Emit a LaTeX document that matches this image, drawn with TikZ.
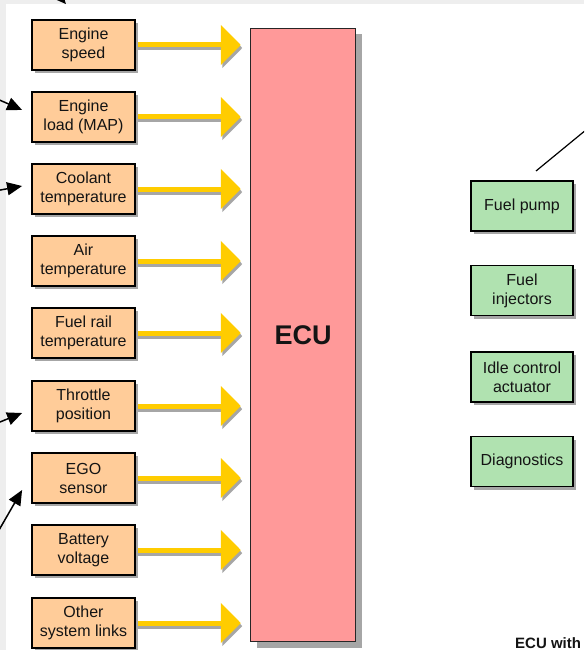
\documentclass[tikz,border=0pt]{standalone}
\usepackage{fontspec}
\setmainfont{Liberation Sans}
\usetikzlibrary{arrows.meta,shadows}

\definecolor{peach}{HTML}{FFCC99}
\definecolor{mint}{HTML}{B0E2B0}
\definecolor{ecupink}{HTML}{FF9999}
\definecolor{feedyellow}{HTML}{FFCC00}
\definecolor{shadowgray}{HTML}{A6A6A6}
\definecolor{txt}{HTML}{141414}
\definecolor{margin}{HTML}{EEEEEE}

\pgfdeclarelayer{paper}
\pgfdeclarelayer{feeds}
\pgfsetlayers{paper,feeds,main}

\begin{document}
\begin{tikzpicture}[x=1pt,y=-1pt,
  box/.style={draw=black, line width=1.8pt, minimum width=103pt, minimum height=50pt,
    inner sep=0pt, align=center, text=txt, font=\fontsize{16}{19}\selectfont,
    drop shadow={shadow xshift=3pt, shadow yshift=-3pt, fill=shadowgray, opacity=1}},
  inbox/.style={box, fill=peach},
  outbox/.style={box, fill=mint, minimum width=102pt},
  feed/.style={line width=5pt, draw=feedyellow,
    -{Triangle[width=39pt,length=20pt,fill=feedyellow]}, shorten >=9pt},
  feedshadow/.style={feed, draw=shadowgray,
    -{Triangle[width=39pt,length=20pt,fill=shadowgray]},
    transform canvas={xshift=1.5pt,yshift=-3pt}},
  pointer/.style={line width=1.5pt, draw=black, -{Triangle[length=15pt,width=13pt]}}
]
\useasboundingbox (0,0) rectangle (584,650);
\clip (0,0) rectangle (584,650);

% page background with its grey margin
\begin{pgfonlayer}{paper}
\fill[margin] (0,0) rectangle (584,650);
\fill[white] (6,4) rectangle (584,650);
\end{pgfonlayer}

% the control unit
\node[draw=black!85, line width=1.4pt, fill=ecupink, minimum width=105pt, minimum height=613pt,
  inner sep=0pt, font=\fontsize{27}{30}\selectfont\bfseries, text=txt,
  drop shadow={shadow xshift=6pt, shadow yshift=-6pt, fill=shadowgray, opacity=1}]
  (ecu) at (303,335) {ECU};

% sensor inputs
\node[inbox] (b1) at (83.5,45)  {Engine\\speed};
\node[inbox] (b2) at (83.5,117) {Engine\\load (MAP)};
\node[inbox] (b3) at (83.5,189) {Coolant\\temperature};
\node[inbox] (b4) at (83.5,261) {Air\\temperature};
\node[inbox] (b5) at (83.5,333) {Fuel rail\\temperature};
\node[inbox] (b6) at (83.5,406) {Throttle\\position};
\node[inbox] (b7) at (83.5,478) {EGO\\sensor};
\node[inbox] (b8) at (83.5,550) {Battery\\voltage};
\node[inbox] (b9) at (83.5,623) {Other\\system links};

% yellow feeds into the control unit, kept beneath the boxes
\begin{pgfonlayer}{feeds}
\foreach \b in {b1,b2,b3,b4,b5,b6,b7,b8,b9}{
  \draw[feedshadow] (\b.east) -- (\b.east -| ecu.west);
}
\foreach \b in {b1,b2,b3,b4,b5,b6,b7,b8,b9}{
  \draw[feed] (\b.east) -- (\b.east -| ecu.west);
}
\end{pgfonlayer}

% actuator outputs
\node[outbox] (o1) at (522,206)   {Fuel pump};
\node[outbox] (o2) at (522,290.5) {Fuel\\injectors};
\node[outbox] (o3) at (522,377)   {Idle control\\actuator};
\node[outbox] (o4) at (522,461.5) {Diagnostics};

% pointers to the sensor boxes
\coordinate (t1) at (40,-25);
\coordinate (t2) at (-5,98);
\coordinate (t3) at (-5,191);
\coordinate (t6) at (-5,424);
\coordinate (t7) at (-5,537);
\draw[pointer] (t1) -- ([shift={(-17.5,-15)}]b1.north);
\draw[pointer] (t2) -- ([shift={(-9,-7)}]b2.west);
\draw[pointer] (t3) -- ([shift={(-9,-3)}]b3.west);
\draw[pointer] (t6) -- ([shift={(-9,7)}]b6.west);
\draw[pointer] (t7) -- ([shift={(-9,12)}]b7.west);

% leader line above the fuel pump
\coordinate (l1) at (536,171);
\coordinate (l2) at (592,125);
\draw[line width=1.2pt] (l1) -- (l2);

% caption
\node[anchor=base west, inner sep=0pt, font=\fontsize{15}{17}\selectfont\bfseries, text=txt]
  (cap) at (515,648) {ECU with};
\end{tikzpicture}
\end{document}
